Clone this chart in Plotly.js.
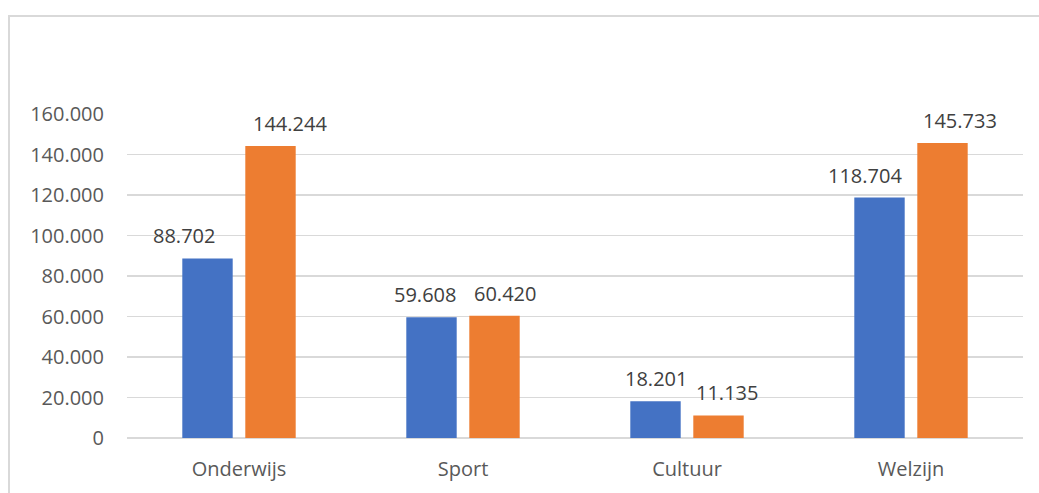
<!DOCTYPE html>
<html>
<head>
<meta charset="utf-8">
<script src="https://cdn.plot.ly/plotly-3.0.1.min.js"></script>
<style>
  html, body { margin: 0; padding: 0; background: #ffffff; overflow: hidden; }
  #frame { position: absolute; left: 8px; top: 15px; width: 1100px; height: 600px;
           border: 2px solid #d9d9d9; box-sizing: border-box; }
  #chart { position: absolute; left: 0; top: 0; width: 1039px; height: 493px; }
</style>
</head>
<body>
<div id="frame"></div>
<div id="chart"></div>
<script>
const categories = ['Onderwijs', 'Sport', 'Cultuur', 'Welzijn'];
const series1 = [88702, 59608, 18201, 118704];
const series2 = [144244, 60420, 11135, 145733];
const yTicks = [0, 20000, 40000, 60000, 80000, 100000, 120000, 140000, 160000];

// layout-only tweaks: horizontal nudge of the data labels (px), as placed in the original
const nudge1 = [-24, -7, 0, -15];
const nudge2 = [19, 10, 8, 17];

const fontFam = 'Open Sans, sans-serif';
const labelFont = { family: fontFam, size: 20, color: '#404040' };
const slotHalf = 31.5;

const traces = [
  { type: 'bar', x: categories, y: series1, name: 'Serie 1',
    marker: { color: '#4472C4' }, hoverinfo: 'x+y' },
  { type: 'bar', x: categories, y: series2, name: 'Serie 2',
    marker: { color: '#ED7D31' }, hoverinfo: 'x+y' }
];

const fmt = v => v.toLocaleString('de-DE');
const annotations = [];
categories.forEach((c, i) => {
  annotations.push({ x: c, y: series1[i], xref: 'x', yref: 'y', text: fmt(series1[i]),
    showarrow: false, yanchor: 'bottom', xanchor: 'center',
    xshift: -slotHalf + nudge1[i], yshift: 7, font: labelFont });
  annotations.push({ x: c, y: series2[i], xref: 'x', yref: 'y', text: fmt(series2[i]),
    showarrow: false, yanchor: 'bottom', xanchor: 'center',
    xshift: slotHalf + nudge2[i], yshift: 7, font: labelFont });
});

const layout = {
  width: 1039, height: 493,
  margin: { l: 127, r: 16, t: 114, b: 55 },
  paper_bgcolor: 'rgba(0,0,0,0)',
  plot_bgcolor: 'rgba(0,0,0,0)',
  separators: ',.',
  showlegend: false,
  barmode: 'group',
  bargap: 0.4375,
  bargroupgap: 0.2,
  font: { family: fontFam, size: 20, color: '#595959' },
  annotations: annotations,
  xaxis: {
    type: 'category',
    showgrid: false, showline: false, ticks: '',
    ticklabelstandoff: 17,
    tickfont: { family: fontFam, size: 20, color: '#595959' }
  },
  yaxis: {
    range: [0, 160000],
    tickvals: yTicks,
    tickformat: ',',
    showgrid: true, gridcolor: '#d9d9d9', gridwidth: 1.5,
    zeroline: true, zerolinecolor: '#d9d9d9', zerolinewidth: 1.5,
    showline: false, ticks: '',
    ticklabelstandoff: 22,
    tickfont: { family: fontFam, size: 20, color: '#595959' }
  }
};

Plotly.newPlot('chart', traces, layout, { displayModeBar: false, staticPlot: true });
</script>
</body>
</html>
